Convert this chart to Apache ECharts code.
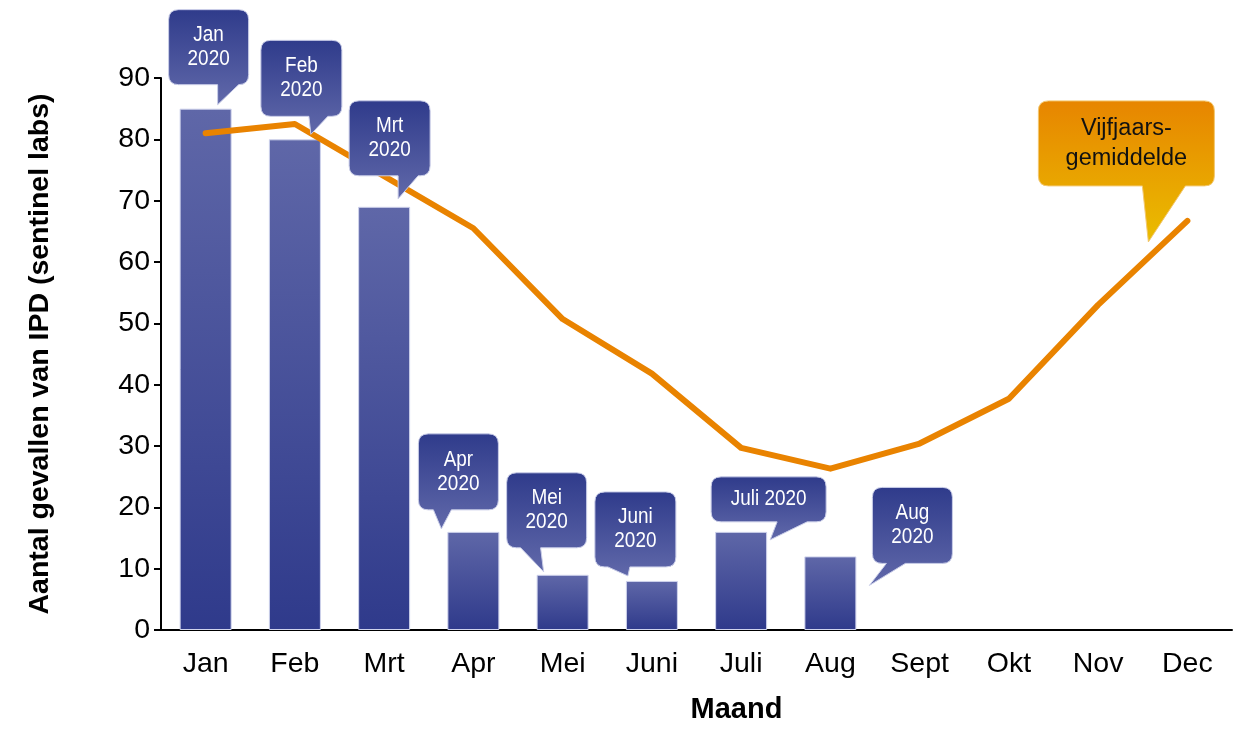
<!DOCTYPE html>
<html>
<head>
<meta charset="utf-8">
<script src="https://cdn.jsdelivr.net/npm/echarts@6/dist/echarts.min.js"></script>
<style>html,body{margin:0;padding:0;background:#fff;}#c{width:1245px;height:729px;}</style>
</head>
<body>
<div id="c"></div>
<script>
var months = ['Jan','Feb','Mrt','Apr','Mei','Juni','Juli','Aug','Sept','Okt','Nov','Dec'];
var cases2020 = [85, 80, 69, 16, 9, 8, 16, 12];
var fiveYearAvg = [81, 82.5, 74, 65.5, 50.7, 41.8, 29.7, 26.3, 30.4, 37.7, 53, 66.7];
var yTicks = [0, 10, 20, 30, 40, 50, 60, 70, 80, 90];
var barCalloutText = ['Jan\n2020','Feb\n2020','Mrt\n2020','Apr\n2020','Mei\n2020','Juni\n2020','Juli 2020','Aug\n2020'];
var avgCalloutText = 'Vijfjaars-\ngemiddelde';

// Callout layout (pixel offsets relative to the anchored data point): box [dx, dy, w, h], tail base x1,x2, tip [dx,dy]
var calloutLayout = [
  {box:[-37,-99,80,75], b:[12,33], tip:[12,-4]},
  {box:[-34,-99,81,76], b:[14,33], tip:[16,-5]},
  {box:[-35,-106,81,75], b:[14,34], tip:[14,-8]},
  {box:[-55,-98,80,76], b:[-40,-22], tip:[-32,-3]},
  {box:[-56,-102,80,75], b:[-42,-22], tip:[-19,-3]},
  {box:[-57,-89,81,75], b:[-44,-22], tip:[-24,-5]},
  {box:[-30,-55,115,45], b:[36,66], tip:[29,8]},
  {box:[42,-69,80,76], b:[56,75], tip:[39,29]},
  {box:[-149,-120,176,85], b:[-45,-2], tip:[-39,21]}
];

var calloutData = cases2020.map(function(v,i){ return [i, v, i]; });
calloutData.push([months.length-1, fiveYearAvg[months.length-1], cases2020.length]);

function calloutPath(x0,y0,w,h,bx1,bx2,tx,ty){
  var r = 10;
  return 'M'+(x0+r)+','+y0+
    ' L'+(x0+w-r)+','+y0+
    ' Q'+(x0+w)+','+y0+' '+(x0+w)+','+(y0+r)+
    ' L'+(x0+w)+','+(y0+h-r)+
    ' Q'+(x0+w)+','+(y0+h)+' '+(x0+w-r)+','+(y0+h)+
    ' L'+bx2+','+(y0+h)+
    ' L'+tx+','+ty+
    ' L'+bx1+','+(y0+h)+
    ' L'+(x0+r)+','+(y0+h)+
    ' Q'+x0+','+(y0+h)+' '+x0+','+(y0+h-r)+
    ' L'+x0+','+(y0+r)+
    ' Q'+x0+','+y0+' '+(x0+r)+','+y0+' Z';
}

var chart = echarts.init(document.getElementById('c'));
var fontMain = '"Liberation Sans", Arial, sans-serif';

chart.setOption({
  animation: false,
  backgroundColor: '#ffffff',
  grid: {left: 161, right: 13, top: 78, bottom: 92, containLabel: false},
  xAxis: {
    type: 'category',
    data: months,
    boundaryGap: true,
    name: 'Maand',
    nameLocation: 'middle',
    nameGap: 65,
    nameTextStyle: {fontSize: 29, fontWeight: 'bold', color: '#000', fontFamily: fontMain, padding: [0,0,0,80]},
    axisLine: {lineStyle: {color: '#000', width: 2}},
    axisTick: {inside: true, length: 8, lineStyle: {color: '#000', width: 2}},
    axisLabel: {fontSize: 28.5, color: '#000', fontFamily: fontMain, margin: 20}
  },
  yAxis: {
    type: 'value',
    min: yTicks[0],
    max: yTicks[yTicks.length-1],
    interval: yTicks[1]-yTicks[0],
    name: 'Aantal gevallen van IPD (sentinel labs)',
    nameLocation: 'middle',
    nameGap: 106,
    nameTextStyle: {fontSize: 28.5, fontWeight: 'bold', color: '#000', fontFamily: fontMain},
    axisLine: {show: true, lineStyle: {color: '#000', width: 2}},
    axisTick: {show: true, length: 7, lineStyle: {color: '#000', width: 2}},
    axisLabel: {fontSize: 28.5, color: '#000', fontFamily: fontMain, margin: 11},
    splitLine: {show: false}
  },
  series: [
    {
      type: 'bar',
      data: cases2020,
      barWidth: 52,
      itemStyle: {
        color: new echarts.graphic.LinearGradient(0,0,0,1,[{offset:0,color:'#5f67a8'},{offset:1,color:'#2f3a8b'}]),
        borderColor: '#cfd3ec',
        borderWidth: 1
      },
      z: 2
    },
    {
      type: 'line',
      data: fiveYearAvg,
      showSymbol: false,
      symbol: 'none',
      lineStyle: {color: '#E98300', width: 6, cap: 'round', join: 'round'},
      z: 3
    },
    {
      type: 'custom',
      data: calloutData,
      clip: false,
      z: 5,
      renderItem: function(params, api){
        var k = api.value(2);
        var L = calloutLayout[k];
        var p = api.coord([api.value(0), api.value(1)]);
        var x0 = p[0]+L.box[0], y0 = p[1]+L.box[1], w = L.box[2], h = L.box[3];
        var isAvg = k >= cases2020.length;
        var fill = isAvg
          ? new echarts.graphic.LinearGradient(0,0,0,1,[{offset:0,color:'#e78500'},{offset:1,color:'#eabd00'}])
          : new echarts.graphic.LinearGradient(0,0,0,1,[{offset:0,color:'#2f3b8b'},{offset:1,color:'#6169aa'}]);
        var path = calloutPath(x0,y0,w,h,p[0]+L.b[0],p[0]+L.b[1],p[0]+L.tip[0],p[1]+L.tip[1]);
        return {
          type: 'group',
          children: [
            {type:'path', shape:{pathData: path}, style:{fill: fill, stroke: isAvg ? '#f3c870' : '#c9cde8', lineWidth: 1}},
            {type:'text', x: x0+w/2, y: y0+h/2, scaleX: isAvg ? 1 : 0.86, style:{
              text: isAvg ? avgCalloutText : barCalloutText[k],
              fill: isAvg ? '#111' : '#ffffff',
              fontSize: isAvg ? 23.5 : 22,
              fontFamily: fontMain,
              align: 'center', verticalAlign: 'middle',
              lineHeight: isAvg ? 30 : 24
            }}
          ]
        };
      }
    }
  ]
});
</script>
</body>
</html>
